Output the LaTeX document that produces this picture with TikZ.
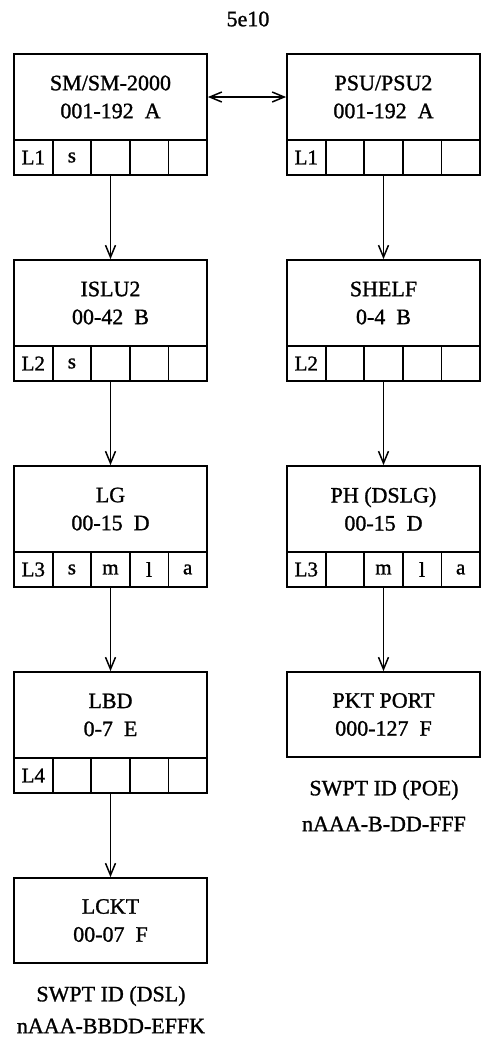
\documentclass[tikz,border=0pt]{standalone}
\usepackage{fontspec}
\setmainfont{Liberation Serif}[FakeBold=1.2]
\usetikzlibrary{arrows.meta}
\newcommand\cellrow[4]{%
  \foreach \t [count=\i from 0] in {#4} {
    \node[cell] (#1-\i) at ({#2+19.3+38.6*\i},{#3+17.5}) {\t};
  }%
}
\begin{document}
\begin{tikzpicture}[x=1pt,y=-1pt,
  every node/.style={inner sep=0pt},
  box/.style={draw, line width=1.8pt, minimum width=193pt, minimum height=86pt,
    align=center, font=\fontsize{22}{28}\selectfont},
  cell/.style={draw, line width=1.8pt, minimum width=38.6pt, minimum height=35pt,
    font=\fontsize{21}{24}\selectfont},
  lbl/.style={font=\fontsize{22}{28}\selectfont},
  arr/.style={line width=1.5pt, -{Straight Barb[length=12pt,width=10pt,line width=1.5pt]}},
  darr/.style={line width=1.5pt, {Straight Barb[length=12pt,width=10pt,line width=1.5pt]}-{Straight Barb[length=12pt,width=10pt,line width=1.5pt]}}]
\useasboundingbox (0,0) rectangle (481,1042);
\node[lbl] (title) at (248,19) {5e10};
% left column
\node[box] (sm) at (110.5,97) {SM/SM-2000\\001-192~~A};
\cellrow{smc}{14}{140}{L1,s,{},{},{}}
\node[box] (islu) at (110.5,303) {ISLU2\\00-42~~B};
\cellrow{isluc}{14}{346}{L2,s,{},{},{}}
\node[box] (lg) at (110.5,509) {LG\\00-15~~D};
\cellrow{lgc}{14}{552}{L3,s,m,l,a}
\node[box] (lbd) at (110.5,715) {LBD\\0-7~~E};
\cellrow{lbdc}{14}{758}{L4,{},{},{},{}}
\node[box,minimum height=85pt] (lckt) at (110.5,920.5) {LCKT\\00-07~~F};
\node[lbl] (dsl1) at (111,996) {SWPT ID (DSL)};
\node[lbl] (dsl2) at (111,1026) {nAAA-BBDD-EFFK};
% right column
\node[box] (psu) at (383.5,97) {PSU/PSU2\\001-192~~A};
\cellrow{psuc}{287}{140}{L1,{},{},{},{}}
\node[box] (shelf) at (383.5,303) {SHELF\\0-4~~B};
\cellrow{shelfc}{287}{346}{L2,{},{},{},{}}
\node[box] (ph) at (383.5,509) {PH (DSLG)\\00-15~~D};
\cellrow{phc}{287}{552}{L3,{},m,l,a}
\node[box,minimum height=85pt] (pkt) at (383.5,714.5) {PKT PORT\\000-127~~F};
\node[lbl] (poe1) at (384,790) {SWPT ID (POE)};
\node[lbl] (poe2) at (384,824) {nAAA-B-DD-FFF};
% connectors
\draw[darr] (sm.east) -- (psu.west);
\draw[arr] (smc-2.south) -- (islu.north);
\draw[arr] (isluc-2.south) -- (lg.north);
\draw[arr] (lgc-2.south) -- (lbd.north);
\draw[arr] (lbdc-2.south) -- (lckt.north);
\draw[arr] (psuc-2.south) -- (shelf.north);
\draw[arr] (shelfc-2.south) -- (ph.north);
\draw[arr] (phc-2.south) -- (pkt.north);
\end{tikzpicture}
\end{document}
